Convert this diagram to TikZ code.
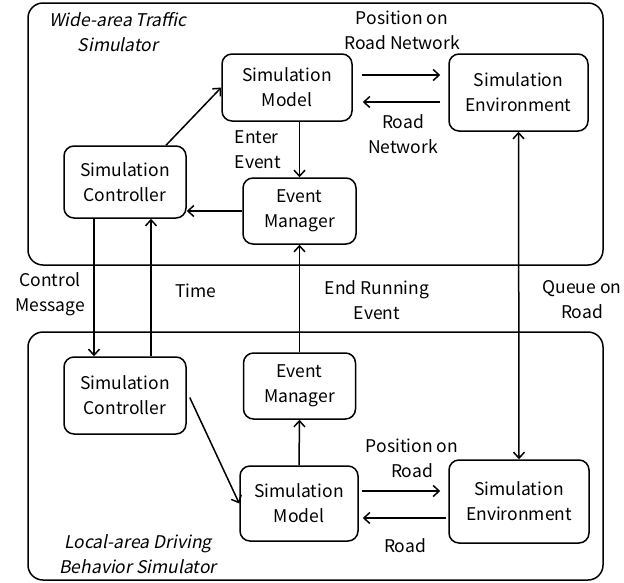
\documentclass[tikz,border=0pt]{standalone}
\usepackage{fontspec}
\setmainfont{Noto Sans CJK JP}
\newfontfamily\slfont[FakeSlant=0.2]{Noto Sans CJK JP}
\usetikzlibrary{arrows.meta}
\begin{document}
\begin{tikzpicture}[x=1pt,y=-1pt,
  every node/.style={font=\fontsize{17.5}{25}\selectfont, align=center, inner sep=0pt},
  outer/.style={draw, line width=1.5pt, rounded corners=15pt},
  blk/.style={draw, line width=1.5pt, rounded corners=10pt, minimum width=#1},
  arr/.style={line width=1.5pt, -{Straight Barb[length=6pt,width=11pt]}},
  darr/.style={line width=1.5pt, {Straight Barb[length=6pt,width=11pt]}-{Straight Barb[length=6pt,width=11pt]}},
  lbl/.style={font=\fontsize{17.5}{25}\selectfont},
  ital/.style={font=\fontsize{17.5}{25}\selectfont\slfont}]
\useasboundingbox (0,0) rectangle (624,582);
% outer frames
\draw[outer] (28,3) rectangle (603,265);
\draw[outer] (28,332) rectangle (603,580);
\node[ital] (wt) at (118,32) {Wide-area Traffic\\Simulator};
\node[ital] (lt) at (138,554) {Local-area Driving\\Behavior Simulator};
% blocks
\node[blk=130pt, minimum height=67pt] (tm) at (287,87.5) {Simulation\\Model};
\node[blk=139pt, minimum height=77pt] (te) at (518.5,92.5) {Simulation\\Environment};
\node[blk=122pt, minimum height=72pt] (tc) at (125,182) {Simulation\\Controller};
\node[blk=113pt, minimum height=66pt] (tem) at (299.5,211) {Event\\Manager};
\node[blk=122pt, minimum height=77pt] (bc) at (125,395.5) {Simulation\\Controller};
\node[blk=112pt, minimum height=66pt] (bem) at (299.5,386) {Event\\Manager};
\node[blk=118pt, minimum height=75pt] (bm) at (299,503.5) {Simulation\\Model};
\node[blk=140pt, minimum height=83pt] (be) at (519,501.5) {Simulation\\Environment};
% helper coordinates
\coordinate (y1) at (0,75);
\coordinate (y2) at (0,102);
\coordinate (y3) at (0,491);
\coordinate (y4) at (0,518);
% connectors
\draw[arr] ([shift={(41,0)}]tc.north) -- (tm.west);
\draw[arr] (tem.north |- tm.south) -- (tem.north);
\draw[arr, shorten <=9pt, shorten >=8pt] (tm.east |- y1) -- (te.west |- y1);
\draw[arr, shorten <=8pt, shorten >=10pt] (te.west |- y2) -- (tm.east |- y2);
\draw[arr] (tem.west) -- (tc.east |- tem.west);
\draw[arr] ([shift={(-31,0)}]tc.south) -- ([shift={(-31,0)}]bc.north);
\draw[arr] ([shift={(26,0)}]bc.north) -- ([shift={(26,0)}]tc.south);
\draw[arr] (bem.north) -- (tem.south);
\draw[darr] (te.south) -- (be.north);
\draw[arr] ([shift={(3,2)}]bc.east) -- (bm.west);
\draw[arr] (bm.north) -- (bem.south);
\draw[arr, shorten <=3pt, shorten >=8pt] (bm.east |- y3) -- (be.west |- y3);
\draw[arr, shorten <=2pt, shorten >=4pt] (be.west |- y4) -- (bm.east |- y4);
% labels
\node[lbl] (l1) at (402,30) {Position on\\Road Network};
\node[lbl] (l2) at (403,134) {Road\\Network};
\node[lbl, align=left] (l3) at (258,150) {Enter\\Event};
\node[lbl] (l4) at (50,294) {Control\\Message};
\node[lbl] (l5) at (196,291) {Time};
\node[lbl] (l6) at (377,300) {End Running\\Event};
\node[lbl] (l7) at (582,300) {Queue on\\Road};
\node[lbl] (l8) at (412,458) {Position on\\Road};
\node[lbl] (l9) at (405,546) {Road};
\end{tikzpicture}
\end{document}
